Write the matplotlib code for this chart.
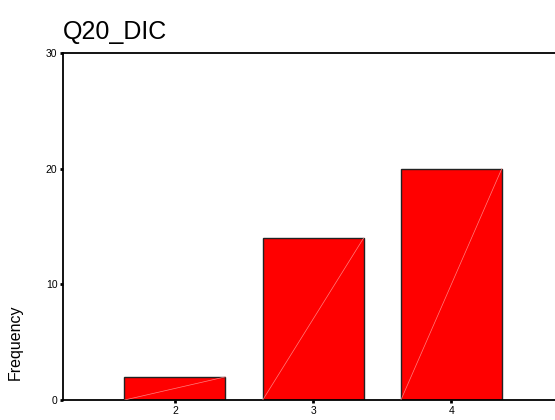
import matplotlib
matplotlib.use('Agg')
import matplotlib.pyplot as plt

# dados
categorias = [2, 3, 4]
frequencias = [2, 14, 20]
yticks = [0, 10, 20, 30]
titulo = 'Q20_DIC'

plt.rcParams['font.family'] = ['Liberation Sans', 'DejaVu Sans']

fig = plt.figure(figsize=(5.55, 4.2), dpi=100)
ax = fig.add_axes([0.1135, 0.0476, 0.8865, 0.8262])

largura = 0.73
ax.bar(categorias, frequencias, width=largura, color='#ff0000',
       edgecolor='#222222', linewidth=1.0, zorder=2)

# linha diagonal clara dentro de cada barra
for x, v in zip(categorias, frequencias):
    ax.plot([x - largura / 2, x + largura / 2], [0, v], color='#ff8080',
            linewidth=0.5, zorder=3)

ax.set_xlim(1.19, 4.75)
ax.set_ylim(0, 30)
ax.set_xticks(categorias)
ax.set_yticks(yticks)
ax.tick_params(axis='both', length=2, width=2, labelsize=7.5, pad=2, color='black')

for s in ['left', 'top', 'bottom']:
    ax.spines[s].set_linewidth(1.3)
ax.spines['right'].set_visible(False)

fig.text(0.113, 0.925, titulo, fontsize=18, ha='left', va='center')
fig.text(0.028, 0.186, 'Frequency', fontsize=11.5, rotation=90,
         ha='center', va='center')

fig.savefig('out.png', dpi=100)
